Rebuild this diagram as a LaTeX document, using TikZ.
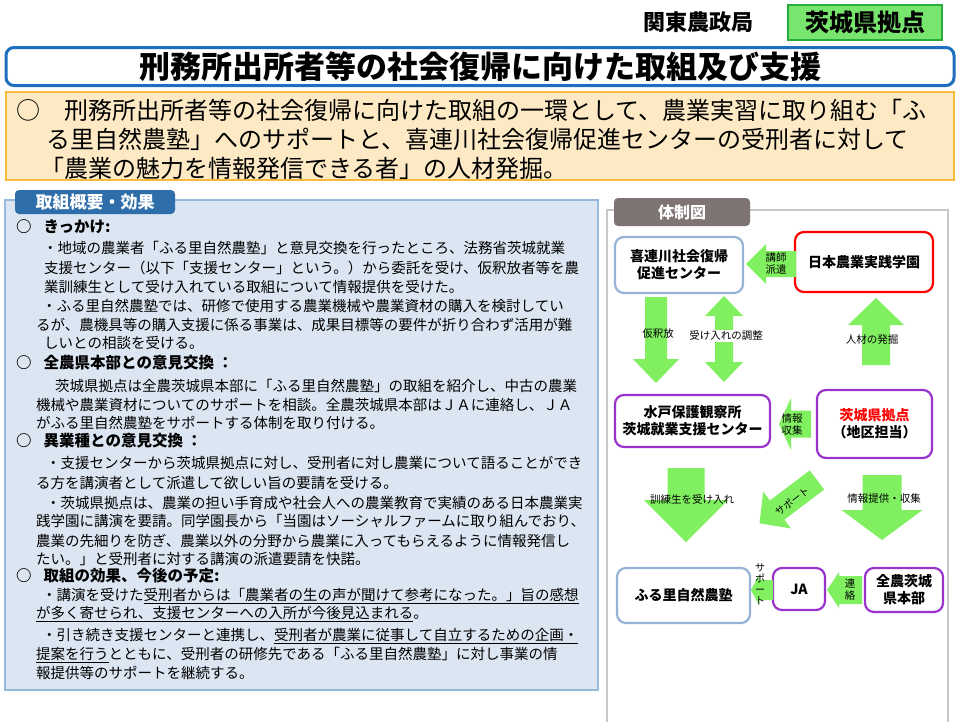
\documentclass[tikz,border=0pt]{standalone}
\usepackage{fontspec}
\setmainfont{Noto Sans CJK JP}
\definecolor{agreen}{RGB}{128,240,96}
\definecolor{peach}{RGB}{253,234,196}
\definecolor{gold}{RGB}{245,185,60}
\definecolor{pfill}{RGB}{220,230,242}
\definecolor{pborder}{RGB}{150,185,220}
\definecolor{tabblue}{RGB}{46,110,170}
\definecolor{tblue}{RGB}{30,110,190}
\definecolor{lblue}{RGB}{149,179,215}
\definecolor{purp}{RGB}{153,51,204}
\definecolor{tgray}{RGB}{127,116,116}
\definecolor{hgreen}{RGB}{120,230,110}
\definecolor{hgborder}{RGB}{40,170,60}
\newcommand\fatarr[8]{% name,x,y,angle,length,shaft,headw,headlen
  \begin{scope}[shift={(#2,#3)},rotate=#4]
  \fill[agreen] (0,-#6/2)--(#5-#8,-#6/2)--(#5-#8,-#7/2)--(#5,0)--(#5-#8,#7/2)--(#5-#8,#6/2)--(0,#6/2)--cycle;
  \coordinate (#1) at (#5/2,0);
  \end{scope}}
\begin{document}
\begin{tikzpicture}[x=1pt,y=-1pt,
  ln/.style={anchor=west,inner sep=0pt,font=\fontsize{14.5}{14.5}\selectfont},
  hd/.style={anchor=west,inner sep=0pt,font=\fontsize{15.5}{15.5}\selectfont\bfseries},
  dbox/.style={draw,line width=2.2pt,rounded corners=9pt,fill=white,align=center,font=\fontsize{14}{17}\selectfont\bfseries,inner sep=0pt},
  lab/.style={inner sep=0pt,font=\fontsize{10.5}{12}\selectfont,align=center}]
\useasboundingbox (0,0) rectangle (961,721);
\fill[white] (0,0) rectangle (961,721);
% header
\node[inner sep=0pt,font=\fontsize{22}{22}\selectfont\bfseries] (kanto) at (698,22) {関東農政局};
\node[draw=hgborder,line width=1.5pt,fill=hgreen,minimum width=154pt,minimum height=35pt,font=\fontsize{24}{24}\selectfont\bfseries] (kyoten) at (865,22.5) {茨城県拠点};
\node[draw=tblue,line width=3pt,rounded corners=8pt,fill=white,minimum width=948pt,minimum height=38pt,font=\fontsize{31}{31}\selectfont\bfseries] (title) at (480,66.5) {刑務所出所者等の社会復帰に向けた取組及び支援};
\node[draw=gold,line width=2.5pt,fill=peach,minimum width=948pt,minimum height=88pt] (summary) at (480,136) {};
\begin{scope}[every node/.style={anchor=west,inner sep=0pt,font=\fontsize{24}{24}\selectfont}]
\node (s1) at (16,110) {○　刑務所出所者等の社会復帰に向けた取組の一環として、農業実習に取り組む「ふ};
\node (s2) at (46,139) {る里自然農塾」へのサポートと、喜連川社会復帰促進センターの受刑者に対して};
\node (s3) at (40,168) {「農業の魅力を情報発信できる者」の人材発掘。};
\end{scope}
% left panel
\node[draw=pborder,line width=2.5pt,fill=pfill,minimum width=593pt,minimum height=490pt] (panel) at (301.5,445) {};
\node[fill=tabblue,rounded corners=4pt,minimum width=160pt,minimum height=24pt,text=white,font=\fontsize{17}{17}\selectfont\bfseries] (tab) at (95,202) {取組概要・効果};
\node[hd] (h1) at (16,227) {○\hspace{12pt}きっかけ:};
\node[ln] (l1) at (43,248) {・地域の農業者「ふる里自然農塾」と意見交換を行ったところ、法務省茨城就業};
\node[ln] (l2) at (44,268) {支援センター（以下「支援センター」という。）から委託を受け、仮釈放者等を農};
\node[ln] (l3) at (44,287) {業訓練生として受け入れている取組について情報提供を受けた。};
\node[ln] (l4) at (42,306) {・ふる里自然農塾では、研修で使用する農業機械や農業資材の購入を検討してい};
\node[ln] (l5) at (36,325) {るが、農機具等の購入支援に係る事業は、成果目標等の要件が折り合わず活用が難};
\node[ln] (l6) at (44,343) {しいとの相談を受ける。};
\node[hd] (h2) at (16,363) {○\hspace{12pt}全農県本部との意見交換 ：};
\node[ln] (l7) at (55,386) {茨城県拠点は全農茨城県本部に「ふる里自然農塾」の取組を紹介し、中古の農業};
\node[ln] (l8) at (36,405) {機械や農業資材についてのサポートを相談。全農茨城県本部はＪＡに連絡し、ＪＡ};
\node[ln] (l9) at (36,423) {がふる里自然農塾をサポートする体制を取り付ける。};
\node[hd] (h3) at (16,441) {○\hspace{12pt}異業種との意見交換 ：};
\node[ln] (m1) at (46,463) {・支援センターから茨城県拠点に対し、受刑者に対し農業について語ることができ};
\node[ln] (m2) at (36,483) {る方を講演者として派遣して欲しい旨の要請を受ける。};
\node[ln] (m3) at (46,503) {・茨城県拠点は、農業の担い手育成や社会人への農業教育で実績のある日本農業実};
\node[ln] (m4) at (36,521) {践学園に講演を要請。同学園長から「当園はソーシャルファームに取り組んでおり、};
\node[ln] (m5) at (36,541) {農業の先細りを防ぎ、農業以外の分野から農業に入ってもらえるように情報発信し};
\node[ln] (m6) at (36,559) {たい。」と受刑者に対する講演の派遣要請を快諾。};
\node[hd] (h4) at (16,576) {○\hspace{12pt}取組の効果、今後の予定:};
\node[ln] (n1) at (42,596) {・講演を受けた\underline{受刑者からは「農業者の生の声が聞けて参考になった。」旨の感想}};
\node[ln] (n2) at (36,614) {\underline{が多く寄せられ、支援センターへの入所が今後見込まれる}。};
\node[ln] (n3) at (42,636) {・引き続き支援センターと連携し、\underline{受刑者が農業に従事して自立するための企画・}};
\node[ln] (n4) at (36,655) {\underline{提案を行う}とともに、受刑者の研修先である「ふる里自然農塾」に対し事業の情};
\node[ln] (n5) at (36,673) {報提供等のサポートを継続する。};
% right panel
\draw[draw=black!22,line width=2pt] (607,730) -- (607,210) -- (948,210) -- (948,730);
\node[fill=tgray,rounded corners=4pt,minimum width=136pt,minimum height=28pt,text=white,font=\fontsize{16}{16}\selectfont\bfseries] (tab2) at (682,212) {体制図};
% nodes
\node[dbox,draw=lblue,minimum width=128pt,minimum height=56pt] (kitsure) at (679,265) {喜連川社会復帰\\促進センター};
\node[dbox,draw=red,minimum width=138pt,minimum height=60pt] (nihon) at (864,262) {日本農業実践学園};
\node[dbox,draw=purp,minimum width=155pt,minimum height=52pt] (mito) at (692.5,421) {水戸保護観察所\\茨城就業支援センター};
\node[dbox,draw=purp,minimum width=115pt,minimum height=68pt] (ibaraki) at (874.5,424) {\textcolor{red}{茨城県拠点}\\（地区担当）};
\node[dbox,draw=lblue,minimum width=133pt,minimum height=55pt] (furu) at (683.5,595.5) {ふる里自然農塾};
\node[dbox,draw=purp,minimum width=52pt,minimum height=42pt] (ja) at (799,589) {JA};
\node[dbox,draw=purp,minimum width=78pt,minimum height=44pt] (zennoh) at (904,590) {全農茨城\\県本部};
% arrows
\fatarr{a1}{796}{264}{180}{50}{26}{40}{20}
\node[lab] at (776,264) {講師\\派遣};
\fatarr{a2}{656}{297}{-90}{86}{22}{46}{24}
\node[lab] at (658,334) {仮釈放};
\fatarr{a3}{724}{339}{-90}{43}{18}{38}{20}
\fatarr{a3b}{724}{339}{90}{43}{18}{38}{20}
\node[lab,fill=white,inner sep=1pt] at (726,336) {受け入れの調整};
\fatarr{a4}{876}{365}{90}{67}{28}{56}{27}
\node[lab] at (872,340) {人材の発掘};
\fatarr{a5}{811}{424}{180}{32}{27}{52}{12}
\node[lab] at (792,424) {情報\\収集};
\fatarr{a6}{686}{468}{-90}{74}{37}{84}{42}
\node[lab] at (692,499) {訓練生を受け入れ};
\fatarr{a7}{817}{480}{217}{72}{24}{46}{22}
\node[lab,rotate=38,font=\fontsize{10}{10}\selectfont] at (792,501) {サポート};
\fatarr{a8}{882}{475}{-90}{65}{39}{81}{30}
\node[lab] at (884,498) {情報提供・収集};
\fatarr{a9}{862}{590}{180}{35}{28}{36}{12}
\node[lab] at (850,590) {連\\絡};
\fatarr{a10}{773}{590}{180}{22}{20}{30}{8}
\node[lab,font=\fontsize{10}{11}\selectfont] at (760,584) {サ\\ポ\\ー\\ト};
\end{tikzpicture}
\end{document}
